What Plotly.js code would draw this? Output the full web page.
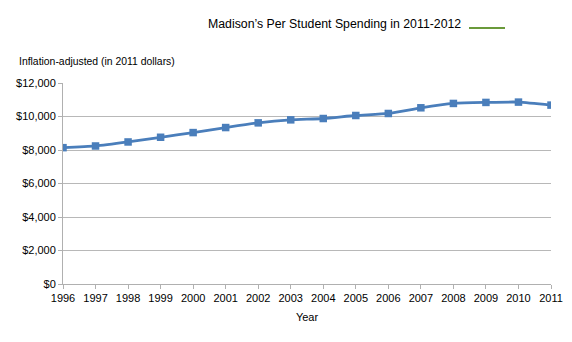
<!DOCTYPE html>
<html><head><meta charset="utf-8">
<script src="https://cdn.plot.ly/plotly-3.0.1.min.js"></script>
<style>html,body{margin:0;padding:0;background:#fff}#chart{width:572px;height:342px}</style>
</head><body><div id="chart"></div>
<script>
var years = ["1996","1997","1998","1999","2000","2001","2002","2003","2004","2005","2006","2007","2008","2009","2010","2011"];
var spending = [8140,8240,8480,8760,9040,9340,9620,9800,9880,10060,10180,10520,10780,10840,10860,10680];
var yTicks = [0,2000,4000,6000,8000,10000,12000];
var yTickLabels = ["$0","$2,000","$4,000","$6,000","$8,000","$10,000","$12,000"];
var seriesName = "Madison\u2019s Per Student Spending in 2011-2012";

var trace = {
  x: years.map(Number), y: spending, type: "scatter", mode: "lines+markers",
  line: {color: "#4a7ebb", width: 2.8, shape: "spline", smoothing: 0.6},
  marker: {symbol: "square", size: 7.5, color: "#4a7ebb"},
  showlegend: false, hoverinfo: "none"
};
var pw = 572 - 63 - 21, ph = 342 - 83 - 58;
function px(x){return (x-63)/pw;}
function py(y){return (342-58-y)/ph;}
var layout = {
  width: 572, height: 342,
  margin: {l: 63, r: 21, t: 83, b: 58},
  paper_bgcolor: "#fff", plot_bgcolor: "#fff",
  font: {family: "Liberation Sans, Arial, sans-serif", size: 11, color: "#000"},
  xaxis: {
    range: [1996, 2011], tickvals: years.map(Number), ticktext: years,
    showgrid: false, zeroline: false, showline: true, linecolor: "#b0b0b0", linewidth: 1,
    ticks: "outside", ticklen: 4, tickcolor: "#b0b0b0",
    title: {text: "Year", font: {size: 11}, standoff: 10}
  },
  yaxis: {
    range: [0, 12000], tickvals: yTicks, ticktext: yTickLabels,
    showgrid: true, gridcolor: "#b8b8b8", gridwidth: 1, zeroline: false,
    showline: true, linecolor: "#b0b0b0", linewidth: 1,
    ticks: "outside", ticklen: 4, tickcolor: "#b0b0b0"
  },
  annotations: [
    {text: seriesName, xref: "paper", yref: "paper", x: px(463), y: py(24), xanchor: "right", yanchor: "middle", showarrow: false, font: {size: 12.3}},
    {text: "Inflation-adjusted (in 2011 dollars)", xref: "paper", yref: "paper", x: px(17), y: py(61), xanchor: "left", yanchor: "middle", showarrow: false, font: {size: 10.4}}
  ],
  shapes: [
    {type: "line", xref: "paper", yref: "paper", x0: px(469), x1: px(505), y0: py(28), y1: py(28), line: {color: "#6a9a3a", width: 2}}
  ]
};
Plotly.newPlot("chart", [trace], layout, {displayModeBar: false, staticPlot: true});
</script></body></html>
